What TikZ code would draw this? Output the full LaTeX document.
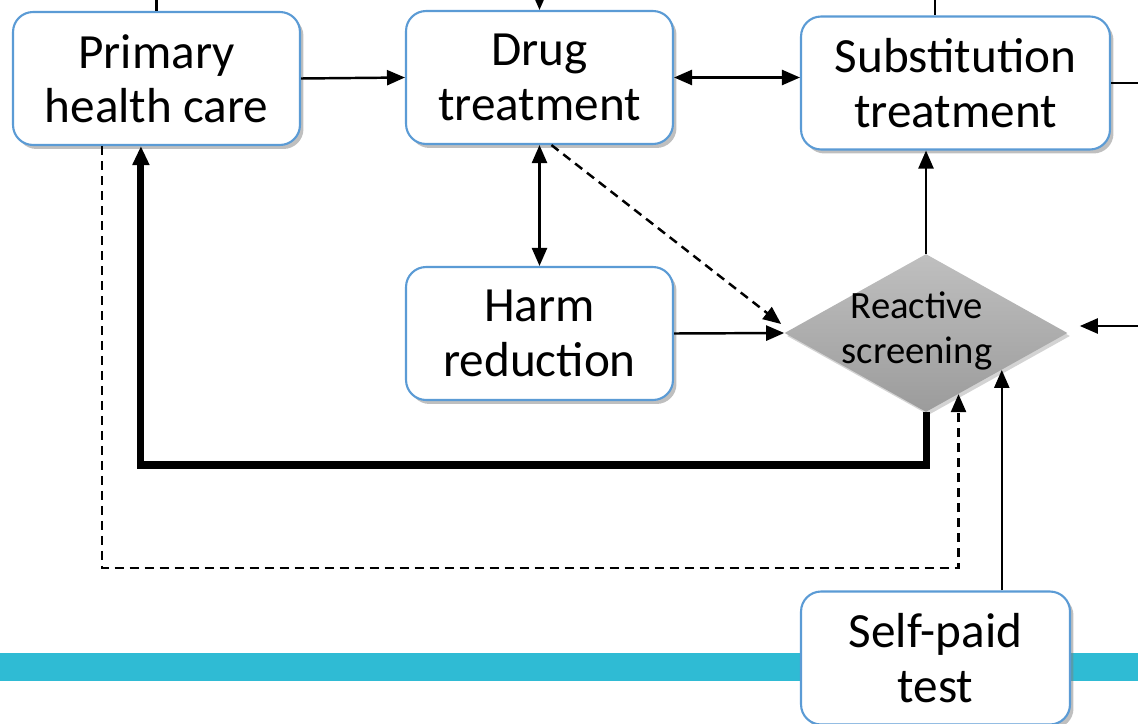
\documentclass[tikz,border=0pt]{standalone}
\usepackage{fontspec}
\setmainfont{Carlito}
\usetikzlibrary{shapes.geometric,shadows,arrows.meta}
\definecolor{boxblue}{RGB}{91,155,213}
\definecolor{bandteal}{RGB}{47,187,212}

\begin{document}
\begin{tikzpicture}[x=0.02cm,y=-0.02cm,
  box/.style={draw=boxblue,line width=1.2pt,fill=white,rounded corners=0.4cm,align=center,
    font=\fontsize{28}{31}\selectfont,minimum height=2.66cm,
    drop shadow={opacity=0.5,shadow xshift=0.07cm,shadow yshift=-0.08cm}},
  plain/.style={line width=1.4pt},
  link/.style={plain,-{Triangle[length=0.36cm,width=0.3cm]}},
  dlink/.style={plain,{Triangle[length=0.36cm,width=0.3cm]}-{Triangle[length=0.36cm,width=0.3cm]}},
  dashlink/.style={link,dash pattern=on 0.18cm off 0.12cm},
  heavy/.style={line width=4pt,-{Triangle[length=0.38cm,width=0.32cm]}}]
\useasboundingbox (0,0) rectangle (1138,723);
\clip (0,0) rectangle (1138,723);
\fill[bandteal] (0,653) rectangle (1138,681);
\coordinate (top) at (0,0);
\coordinate (rout) at (1138,80);
\coordinate (rin) at (1138,326);

\node[box,minimum width=5.74cm] (pri) at (156.5,78.5) {Primary\\health care};
\node[box,minimum width=5.34cm] (drug) at (539.5,77.5) {Drug\\treatment};
\node[box,minimum width=6.18cm] (sub) at (955.5,83) {Substitution\\treatment};
\node[box,minimum width=5.34cm] (harm) at (539.5,333.5) {Harm\\reduction};
\node[box,minimum width=5.38cm] (sp) at (935.5,658) {Self-paid\\test};
\node[diamond,minimum width=5.66cm,minimum height=3.16cm,inner sep=0pt,
  top color=gray!50,bottom color=gray!78,
  drop shadow={opacity=0.35,shadow xshift=0.05cm,shadow yshift=-0.06cm}] (rs) at (926,333) {};
\node[font=\fontsize{22}{26}\selectfont,align=center] (rslabel) at (917,331) {Reactive\\screening};

\draw[plain] (pri.north) -- (pri.north |- top);
\draw[link] (drug.north |- top) -- (drug.north);
\draw[plain] (935,0) -- (sub.north -| 935,0);
\draw[link] (pri.east) -- (drug.west);
\draw[dlink] (drug.east) -- (drug.east -| sub.west);
\draw[plain] (sub.east) -- (sub.east -| rout);
\draw[dlink] (drug.south) -- (harm.north);
\draw[dashlink] (drug.-80) -- ([xshift=-0.06cm,yshift=0.18cm]rs.west);
\draw[link] (harm.east) -- (rs.west);
\draw[link] (rs.north) -- (rs.north |- sub.south);
\draw[link,shorten >=0.24cm] (rin) -- (rin -| rs.east);
\draw[heavy] (rs.south) -- (rs.south |- 0,465) -| (pri.-103);
\draw[dashlink] (pri.-129) -- (pri.-129 |- 0,568) -| (rs.-62);
\draw[link] (rs.-26 |- sp.north) -- (rs.-26);
\end{tikzpicture}
\end{document}
